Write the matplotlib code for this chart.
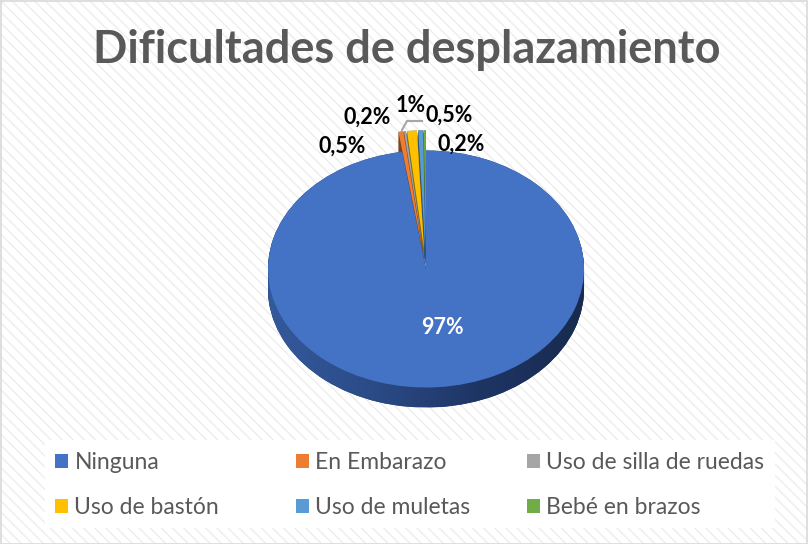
import matplotlib
matplotlib.use("Agg")
import matplotlib.pyplot as plt
import numpy as np
from matplotlib.patches import Patch, Rectangle
from matplotlib.colors import LinearSegmentedColormap, to_rgb

# ---- data ----
categories = ["Ninguna", "En Embarazo", "Uso de silla de ruedas",
              "Uso de bastón", "Uso de muletas", "Bebé en brazos"]
values = [97, 0.5, 0.2, 1, 0.5, 0.2]
value_labels = ["97%", "0,5%", "0,2%", "1%", "0,5%", "0,2%"]
colors = ["#4472C4", "#ED7D31", "#A5A5A5", "#FFC000", "#5B9BD5", "#70AD47"]
title = "Dificultades de desplazamiento"

W, H = 808, 544
fig = plt.figure(figsize=(W / 100, H / 100), dpi=100)
fig.patch.set_facecolor("white")

# hatched background
bg = Rectangle((0, 0), 1, 1, transform=fig.transFigure, facecolor="white",
               edgecolor="#ededed", hatch="\\\\\\", linewidth=0, zorder=-10)
fig.patches.append(bg)
border = Rectangle((0.5 / W, 0.5 / H), 1 - 1.5 / W, 1 - 1.5 / H, transform=fig.transFigure,
                   facecolor="none", edgecolor="#d9d9d9", linewidth=1.2, zorder=-5)
fig.patches.append(border)
# legend box (white)
lgbox = Rectangle((45 / W, 1 - 528 / H), 730 / W, 88 / H, transform=fig.transFigure,
                  facecolor="white", edgecolor="none", zorder=-4)
fig.patches.append(lgbox)

# pie axes: center at pixel (426, 269), x-radius 158 px, y-radius 118.5 px
cx, cy, rx, ry = 426, 269, 158, 118.5
ax = fig.add_axes([0, 0, 1, 1])
ax.patch.set_alpha(0)

def px(x, y):
    return (x - cx) / rx, (cy - y) / ry

explode = [0] + [0.17] * (len(values) - 1)
depth = 20 / ry
nlay = 24

def darker(c, f):
    r, g, b = to_rgb(c)
    return (r * f, g * f, b * f)

side_colors = [darker(c, 0.55) for c in colors]
side_colors[0] = "#24406f"

bottom_wedges = None
for i in range(nlay + 1):
    off = depth * (1 - i / nlay)
    wd, _ = ax.pie(values, colors=side_colors, startangle=90, counterclock=False,
                   explode=explode, center=(0, -off), radius=1,
                   wedgeprops=dict(linewidth=0))
    for w in wd:
        w.set_zorder(1)
    if i == 0:
        bottom_wedges = wd

# gradient for main side wall
grad = np.linspace(0, 1, 256).reshape(1, -1)
cmap = LinearSegmentedColormap.from_list("side", ["#34599c", "#2b4b87", "#1e3564", "#182a4f"])
im = ax.imshow(grad, cmap=cmap, extent=[-1, 1, -1 - depth, 0.2], aspect="auto", zorder=2)
im.set_clip_path(bottom_wedges[0])

top_wedges, _ = ax.pie(values, colors=colors, startangle=90, counterclock=False,
                       explode=explode, center=(0, 0), radius=1,
                       wedgeprops=dict(linewidth=0))
for w in top_wedges:
    w.set_zorder(3)

ax.set_aspect("auto")
ax.set_xlim(-cx / rx, (W - cx) / rx)
ax.set_ylim(-(H - cy) / ry, cy / ry)
ax.axis("off")

# data labels (layout positions in pixels)
label_pos = [(442, 328), (342, 146), (367, 117), (411, 105), (449, 115), (461, 144)]
for i, (lab, (lx, ly)) in enumerate(zip(value_labels, label_pos)):
    x, y = px(lx, ly)
    ax.text(x, y, lab, ha="center", va="center", fontsize=15.5, fontweight="bold",
            color="white" if i == 0 else "black", family="Lato", zorder=6)

# leader line for 1%
lx, ly = zip(*[px(402, 130), px(407, 121), px(422, 121)])
ax.plot(lx, ly, color="#a6a6a6", linewidth=1.5, zorder=5)

fig.text(407 / W, 1 - 50 / H, title, ha="center", va="center", fontsize=32.5,
         fontweight="bold", color="#595959", family="Lato")

# legend in three columns
handles = [Patch(facecolor=c, edgecolor="none") for c in colors]
col_x = [55, 296, 527]
for c in range(3):
    hs = [handles[c], handles[c + 3]]
    ls = [categories[c], categories[c + 3]]
    lg = fig.legend(hs, ls, loc="center left", bbox_to_anchor=(col_x[c] / W, 1 - 485 / H),
                    frameon=False, borderpad=0, borderaxespad=0, handlelength=0.55,
                    handleheight=0.55, handletextpad=0.3, labelspacing=1.06,
                    prop=dict(family="Lato", size=16.5))
    for t in lg.get_texts():
        t.set_color("#595959")

fig.savefig("out.png", dpi=100)
